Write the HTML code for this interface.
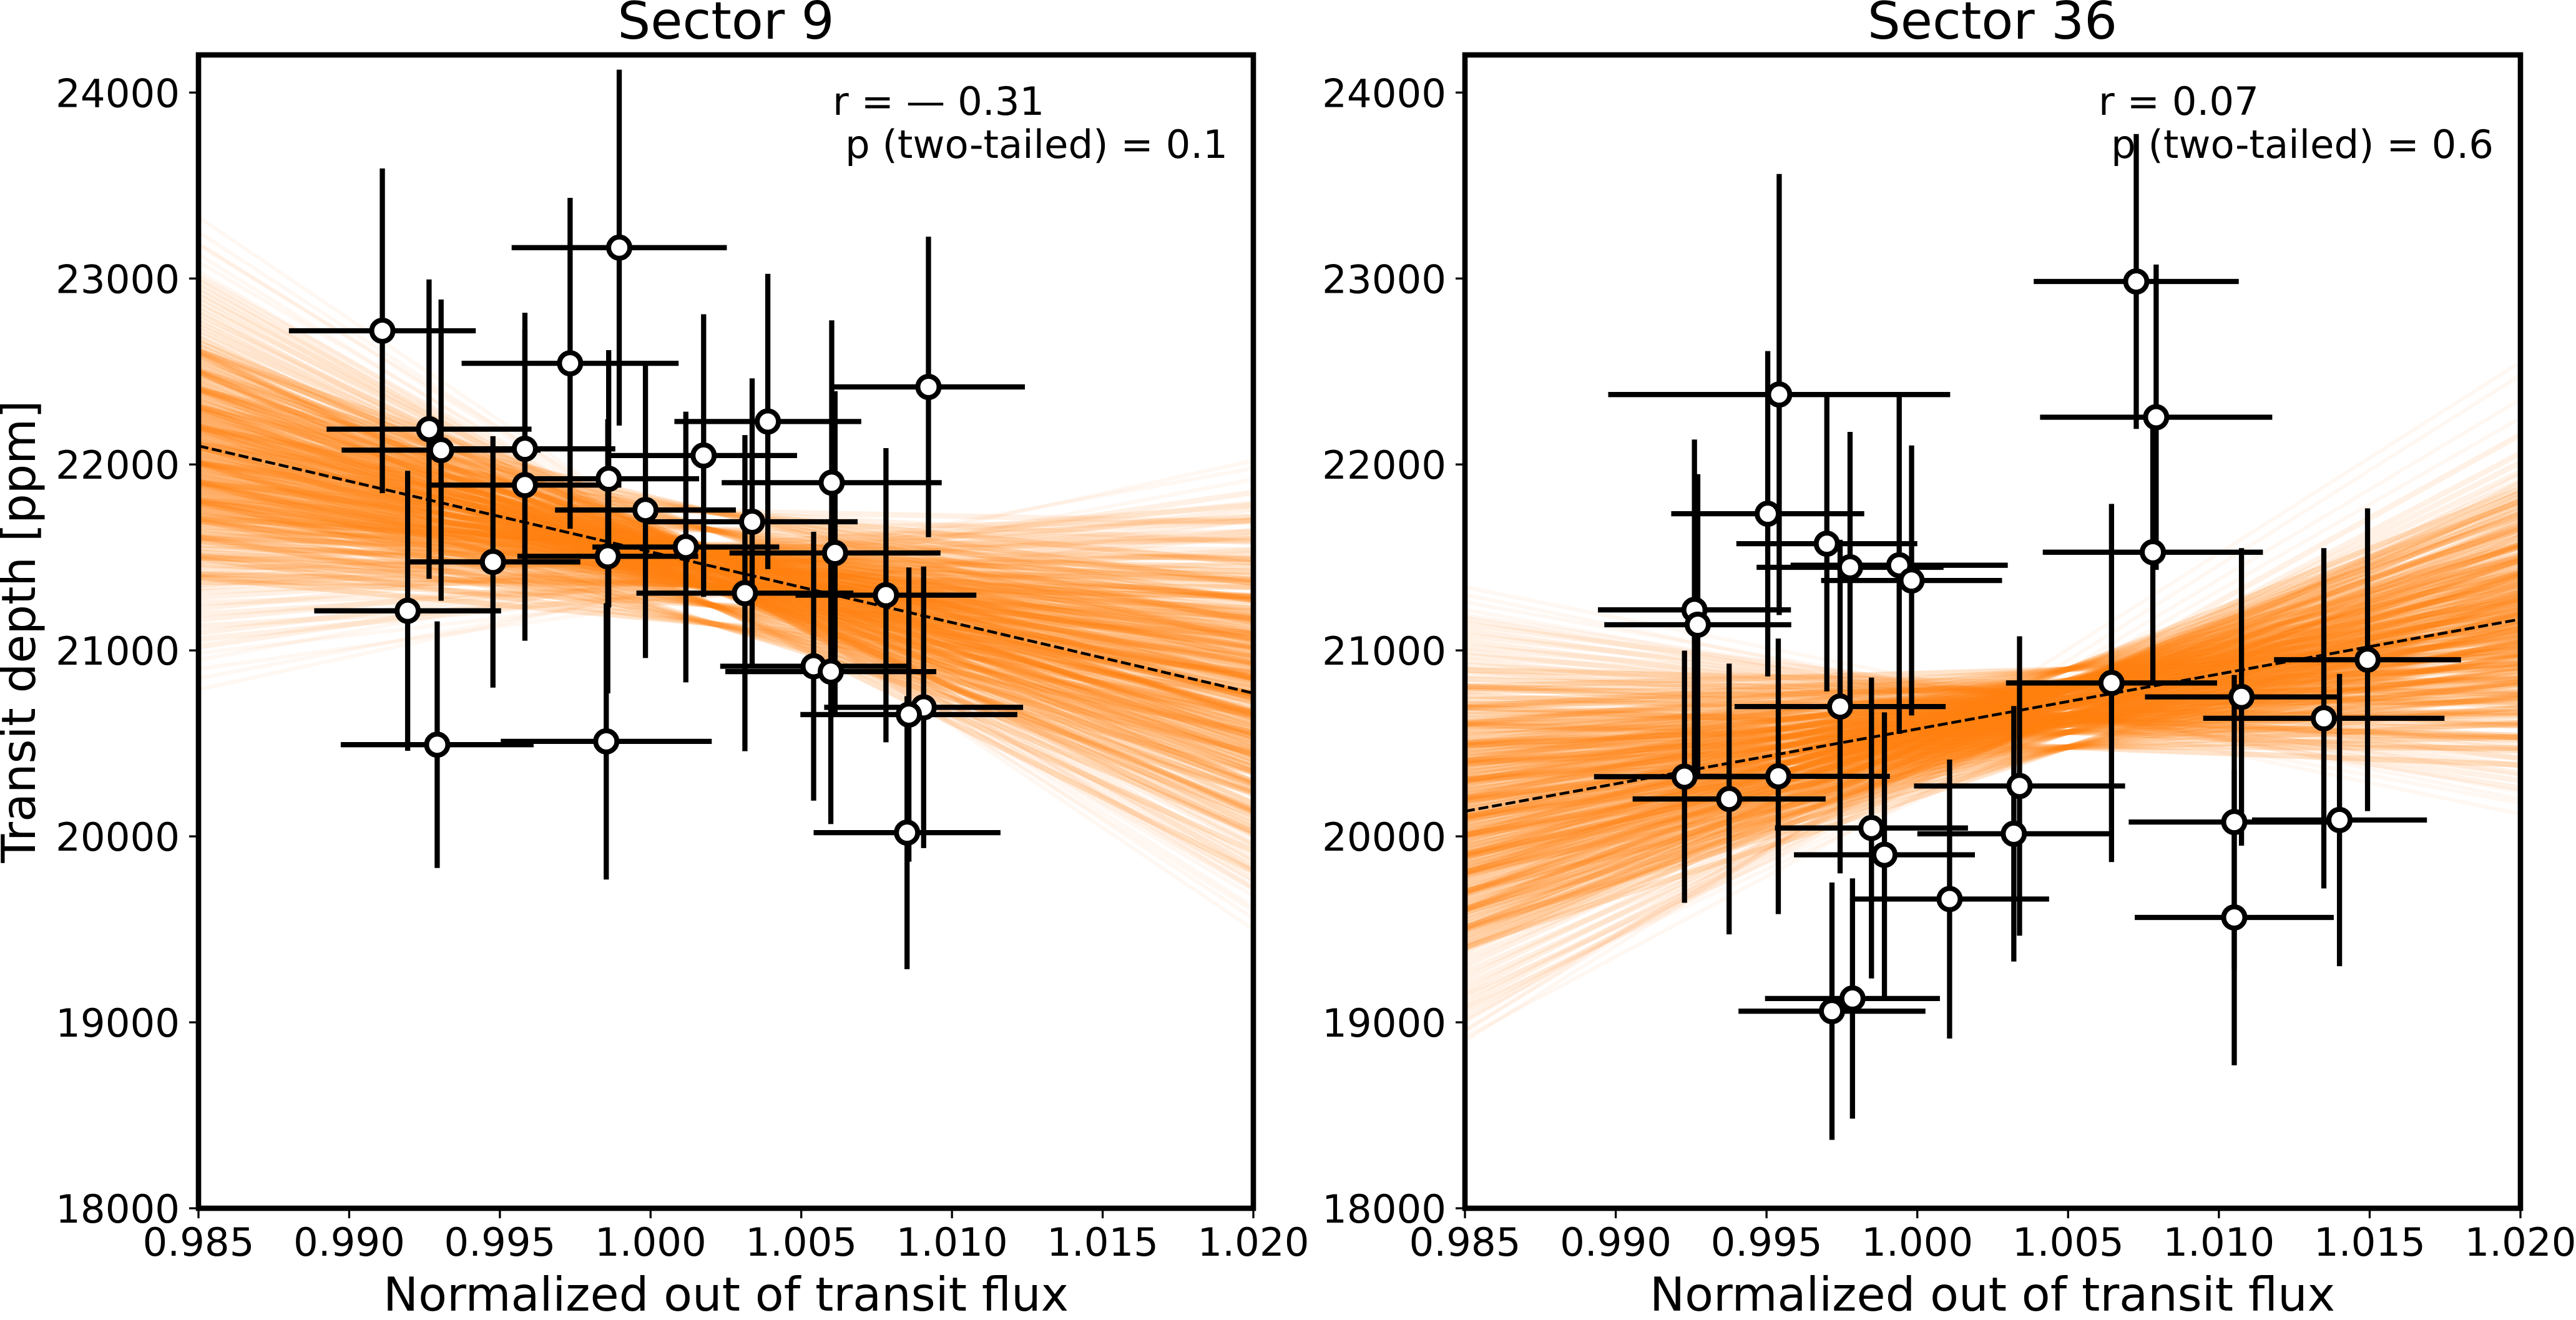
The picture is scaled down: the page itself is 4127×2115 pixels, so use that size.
<!DOCTYPE html>
<html lang="en">
<head>
<meta charset="utf-8">
<title>Transit depth vs normalized out of transit flux</title>
<style>
html,body{margin:0;padding:0;background:#fff;width:4127px;height:2115px;overflow:hidden}
svg{display:block}
text{font-family:"DejaVu Sans","Liberation Sans",sans-serif;fill:#000}
</style>
</head>
<body>
<svg id="chart" xmlns="http://www.w3.org/2000/svg" width="4127" height="2115" viewBox="0 0 4127 2115">
<defs>
<clipPath id="clip-s9"><rect x="318" y="88" width="1690" height="1848"/></clipPath>
<clipPath id="clip-s36"><rect x="2347" y="88" width="1691" height="1848"/></clipPath>
</defs>
<rect x="0" y="0" width="4127" height="2115" fill="#fff"/>
<g id="panel-s9"></g>
<g id="panel-s36"></g>
<text x="1163" y="62" font-size="83.3" text-anchor="middle">Sector 9</text>
<text x="3192" y="62" font-size="83.3" text-anchor="middle">Sector 36</text>
<text x="1163" y="2100" font-size="75" text-anchor="middle">Normalized out of transit flux</text>
<text x="3192" y="2100" font-size="75" text-anchor="middle">Normalized out of transit flux</text>
<text transform="translate(56 1012) rotate(-90)" font-size="75" text-anchor="middle">Transit depth [ppm]</text>
<text x="1334" y="184" font-size="62.5">r = — 0.31</text>
<text x="1354" y="253" font-size="62.5">p (two-tailed) = 0.1</text>
<text x="3362" y="184" font-size="62.5">r = 0.07</text>
<text x="3382" y="253" font-size="62.5">p (two-tailed) = 0.6</text>
</svg>
<script>
const xTicks = [0.985, 0.990, 0.995, 1.000, 1.005, 1.010, 1.015, 1.020];
const yTicks = [18000, 19000, 20000, 21000, 22000, 23000, 24000];

const s9X = [0.99110,0.99896,0.99733,1.00922,1.00389,0.99265,0.99305,0.99583,1.00176,0.99861,0.99583,1.00601,0.99983,1.00337,1.00117,1.00612,0.99858,0.99477,0.99194,1.00313,1.00781,1.00541,1.00598,1.00906,1.00857,0.99292,0.99853,1.00851];
const s9Y = [22719,23166,22544,22417,22231,22190,22077,22084,22048,21923,21889,21902,21755,21692,21556,21524,21506,21476,21213,21308,21297,20915,20886,20694,20655,20493,20511,20020];
const s9XErr = [0.0031,0.00357,0.0036,0.0032,0.0031,0.0034,0.0033,0.0030,0.0031,0.0030,0.0032,0.00365,0.0030,0.0035,0.0031,0.0035,0.0030,0.0029,0.0031,0.0036,0.0030,0.0031,0.0035,0.0033,0.0036,0.0032,0.0035,0.0031];
const s9YErr = [873,957,890,808,794,805,810,732,760,692,837,873,796,771,728,870,737,676,753,850,791,723,820,757,791,663,743,734];

const s36X = [1.00726,0.99542,1.00792,0.99504,0.99700,0.99777,0.99940,0.99981,1.00781,0.99261,0.99272,1.01493,1.00644,1.01075,1.01348,0.99744,0.99228,0.99539,0.99376,1.00339,1.00320,0.99848,0.99891,1.00107,1.01051,1.01400,1.01051,0.99785,0.99717];
const s36Y = [22984,22376,22254,21735,21574,21447,21458,21376,21528,21218,21138,20950,20825,20750,20635,20698,20321,20323,20201,20271,20014,20045,19901,19663,20077,20088,19564,19128,19060];
const s36XErr = [0.0034,0.00567,0.00385,0.0032,0.0030,0.0031,0.0036,0.0030,0.00365,0.0032,0.0031,0.0031,0.0035,0.0032,0.0040,0.0035,0.0030,0.0037,0.0032,0.0035,0.0032,0.0032,0.0030,0.0033,0.0035,0.0029,0.0033,0.0029,0.0031];
const s36YErr = [793,1186,821,875,794,728,907,726,703,916,810,814,963,800,915,897,678,741,728,805,687,809,766,750,791,786,795,646,692];

const s9Fit = [22100, 20770];
const s36Fit = [20135, 21168];

/* Posterior sample lines: [depth at flux 0.985, depth at flux 1.020] */
const s9Core = [
[21368,21340],[21412,21290],[21462,21230],[21497,21380],[21530,21160],[21548,21450],
[21566,21295],[21598,21130],[21612,21400],[21627,21260],[21640,21490],[21655,21090],[21668,21340],[21682,21210],[21694,21420],[21708,21050],[21720,21290],
[21728,21367],[21736,21018],[21745,21168],[21752,20880],[21760,21272],[21769,21093],[21777,21224],[21784,20897],[21793,21177],[21800,21020],[21808,21282],[21816,20933],
[21825,21084],[21832,20796],[21840,21188],[21849,21008],[21856,21141],[21864,20812],[21873,21093],[21880,20935],[21888,21197],[21896,20848],[21905,20999],[21912,20711],
[21920,21103],[21929,20923],[21936,21056],[21944,20727],[21953,21008],[21960,20850],[21968,21112],[21976,20763],[21985,20914],[21992,20626],[22000,21018],[22009,20838],
[22016,20971],[22024,20642],[22033,20923],[22040,20765],[22048,21027],[22056,20678],[22065,20829],[22072,20541],[22080,20933],[22089,20753],[22096,20886],[22104,20557],
[22113,20838],[22120,20681],[22128,20943],[22136,20594],[22145,20744],[22152,20457],[22160,20849],[22169,20669],[22176,20802],[22184,20473],[22193,20754],[22200,20597],
[22208,20858],[22216,20510],[22225,20660],[22232,20373],[22240,20764],[22249,20585],[22256,20718],[22264,20389],[22273,20669],[22280,20512],[22290,20772],[22301,20420],
[22312,20568],[22322,20277],[22334,20665],[22345,20483],[22356,20611],[22368,20279],[22380,20556],[22392,20393],[22405,20650],[22418,20296],[22431,20442],[22444,20148],
[22458,20533],[22472,20348],[22486,20474],[22500,20139],[22516,20412],[22532,20245],[22548,20498],[22564,20141],[22580,20284],[22598,20085],[22616,20366],[22636,20175],
[22656,20294],[22680,20048]
];
const s9Spread = [
[21900,21380],[22005,21270],[22105,21165],[22205,21060],[22305,20955],[22405,20850],[22505,20740],[22610,20630],
[21710,21370],[21795,21280],[21905,21170],[22010,21060],[22090,20970],[22200,20850],[22310,20740],[22395,20640],[22500,20530],[22605,20430],
[21405,21290],[21500,21180],[21610,21070],[21695,20980],[21805,20860],[21890,20770],[22010,20650],[22095,20550],[22205,20440],[22290,20350],[22410,20225],[22495,20130],[22590,20025],
[21395,21085],[21510,20970],[21590,20875],[21710,20750],[21790,20665],[21910,20540],[22005,20445],[22095,20345],[22190,20240],[22310,20115],[22405,20020],[22500,19920],[22610,19810],
[22005,21470],[22110,21360],[22195,21270],[22310,21150],[22405,21050],
[21390,20885],[21495,20770],[21610,20655],[21700,20560],[21805,20450],[21905,20340],[22010,20235]
];
const s9Mid = [
[21020,21850],[21060,21620],[21095,21760],[21130,21480],[21165,21700],[21195,21540],[21225,21790],[21255,21430],[21285,21640],[21315,21520],[21335,21720],
[21352,21780],[21395,21610],[21428,21720],[21447,21505],[21480,21640],[21515,21590],[21581,21540],[21605,21700],[21700,21590],[21805,21490],[21410,21700],[21505,21600],[21600,21490],[21805,21690],[21895,21580],
[22705,20260],[22725,20010],[22745,20180],[22765,19950],[22785,20120],[22810,20000],[22830,19860],[22855,20060],[22880,19820],[22905,19960],[22930,19770],[22955,19880],[22985,19720],[23010,19830]
];
const s9Tail = [
[20790,22020],[20850,21920],[20900,21700],[20950,21980],[20985,21650],[23040,19680],[23090,19750],[23130,19600],[23190,19620],[23250,19560],[23330,19500],[23180,19720]
];

const s36Core = [
[19405,21814],[19422,21651],[19440,21848],[19458,21554],[19476,21701],[19495,21487],[19512,21784],[19530,21610],[19548,21737],[19566,21404],[19584,21680],[19602,21517],
[19620,21753],[19636,21421],[19652,21569],[19668,21297],[19684,21665],[19700,21483],[19715,21612],[19730,21281],[19745,21559],[19760,21398],[19775,21637],[19790,21306],
[19800,21458],[19810,21191],[19820,21563],[19830,21386],[19840,21518],[19850,21191],[19860,21473],[19870,21316],[19880,21558],[19890,21231],[19900,21383],[19910,21116],
[19920,21488],[19930,21311],[19940,21443],[19950,21116],[19960,21398],[19970,21241],[19980,21483],[19990,21156],[20000,21308],[20010,21041],[20020,21413],[20030,21236],
[20040,21368],[20050,21041],[20060,21323],[20070,21166],[20080,21408],[20090,21081],[20100,21233],[20110,20966],[20120,21338],[20130,21161],[20140,21293],[20150,20966],
[20160,21248],[20170,21091],[20180,21333],[20190,21006],[20200,21158],[20210,20891],[20220,21263],[20230,21086],[20240,21218],[20250,20891],[20260,21173],[20270,21016],
[20280,21258],[20290,20931],[20300,21083],[20310,20816],[20320,21188],[20330,21011],[20340,21143],[20350,20816],[20360,21098],[20370,20941],[20380,21183],[20390,20856],
[20400,21008],[20410,20741],[20420,21113],[20430,20936],[20440,21068],[20450,20741],[20460,21023],[20470,20866],[20480,21108],[20490,20781],[20500,20933],[20514,20663],
[20528,21032],[20542,20852],[20556,20981],[20570,20651],[20586,20929],[20602,20767],[20618,21005],[20636,20671],[20654,20818],[20672,20544],[20692,20909],[20712,20724],
[20734,20848],[20758,20530],[20782,20782],[20810,20611],[20845,20705]
];
const s36Spread = [
[19605,21870],[19700,21800],[19805,21720],[19895,21650],[20005,21570],[20100,21500],[20205,21420],[20295,21350],[20405,21270],[20500,21200],[20605,21120],[20695,21050],[20805,20970],
[19505,21805],[19610,21730],[19695,21665],[19805,21580],[19905,21505],[20010,21430],[20095,21365],[20210,21280],[20295,21215],[20405,21135],[20495,21065],[20610,20980],[20705,20905],[20795,20840],[20895,20765],
[19395,21575],[19510,21490],[19605,21415],[19690,21355],[19810,21265],[19895,21200],[20005,21115],[20110,21040],[20195,20975],[20310,20885],[20395,20825],[20490,20755],[20605,20665],[20690,20600],[20805,20515],
[19495,21360],[19610,21275],[19705,21200],[19790,21140],[19905,21050],[20010,20975],[20095,20910],[20205,20830],[20305,20750],[20390,20690],[20505,20600],[20595,20535],[20695,20460],
[19405,21285],[19510,21210],[19595,21145],[19705,21060],[19805,20985],[19895,20920],[20005,20835],[20110,20760],[20195,20695],[20305,20610],[20405,20535],[20490,20475],[20605,20385]
];
const s36Mid = [
[19020,22160],[19060,21900],[19095,22060],[19130,21830],[19165,22010],[19200,21780],[19235,21960],[19270,21700],[19305,21910],[19340,21760],[19375,21850],
[20870,20720],[20895,20470],[20920,20640],[20945,20420],[20970,20590],[20995,20380],[21020,20530],[21050,20340],[21080,20480],[21110,20300],[21140,20420],[21170,20260]
];
const s36Tail = [
[18900,22480],[18950,22550],[19000,22250],[18920,21950],[18960,22350],[21190,20330],[21220,20180],[21260,20240],[21300,20120],[21340,20200],[19080,21680],[19150,21620]
];

const SVG_NS = 'http://www.w3.org/2000/svg';
const yAxisTop = 148.3, yAxisBottom = 1936;

function yScale(v) {
  return yAxisBottom - (v - yTicks[0]) * (yAxisBottom - yAxisTop) / (yTicks[yTicks.length - 1] - yTicks[0]);
}
function makeXScale(left, right) {
  return function (v) {
    return left + (v - xTicks[0]) * (right - left) / (xTicks[xTicks.length - 1] - xTicks[0]);
  };
}
function mk(tag, attrs, parent) {
  const el = document.createElementNS(SVG_NS, tag);
  for (const k in attrs) el.setAttribute(k, attrs[k]);
  parent.appendChild(el);
  return el;
}

function drawSamples(group, samples, xScale, opacity, width, name) {
  const xa = xScale(xTicks[0]);
  const xb = xScale(xTicks[xTicks.length - 1]);
  samples.forEach(function (s) {
    const ln = mk('line', {x1: xa, y1: yScale(s[0]), x2: xb, y2: yScale(s[1]), stroke: '#ff7f0e', 'stroke-width': width, 'stroke-opacity': opacity}, group);
    
    
  });
}

function drawPanel(groupId, clipId, left, right, core, spread, mid, tail, fit, xs, ys, xerrs, yerrs) {
  const root = document.getElementById(groupId);
  const xScale = makeXScale(left, right);

  const samples = mk('g', {'clip-path': 'url(#' + clipId + ')'}, root);
  
  
  drawSamples(samples, tail, xScale, 0.06, 6, 'posterior-line-tail');
  drawSamples(samples, mid, xScale, 0.11, 9, 'posterior-line-mid');
  drawSamples(samples, spread, xScale, 0.22, 9, 'posterior-line-spread');
  drawSamples(samples, core, xScale, 0.22, 9, 'posterior-line-core');

  const fitLine = mk('line', {x1: xScale(xTicks[0]), y1: yScale(fit[0]), x2: xScale(xTicks[xTicks.length - 1]), y2: yScale(fit[1]), stroke: '#000', 'stroke-width': 4.5, 'stroke-dasharray': '16 6', 'clip-path': 'url(#' + clipId + ')'}, root);
  
  

  const bars = mk('g', {stroke: '#000', 'stroke-width': 8.3, 'clip-path': 'url(#' + clipId + ')'}, root);
  
  
  xs.forEach(function (x, i) {
    const v = mk('line', {x1: xScale(x), x2: xScale(x), y1: yScale(ys[i] + yerrs[i]), y2: yScale(ys[i] - yerrs[i])}, bars);
    
    
    const h = mk('line', {x1: xScale(x - xerrs[i]), x2: xScale(x + xerrs[i]), y1: yScale(ys[i]), y2: yScale(ys[i])}, bars);
    
    
  });

  const pts = mk('g', {fill: '#fff', stroke: '#000', 'stroke-width': 8, 'clip-path': 'url(#' + clipId + ')'}, root);
  
  
  xs.forEach(function (x, i) {
    const c = mk('circle', {cx: xScale(x), cy: yScale(ys[i]), r: 17}, pts);
    
    
  });

  xTicks.forEach(function (t) {
    const m = mk('line', {x1: xScale(t), x2: xScale(t), y1: yAxisBottom, y2: yAxisBottom + 16, stroke: '#000', 'stroke-width': 3.3}, root);
    
    
    const l = mk('text', {x: xScale(t), y: 2012, 'font-size': 62.5, 'text-anchor': 'middle'}, root);
    
    
    l.textContent = t.toFixed(3);
  });
  yTicks.forEach(function (t) {
    const m = mk('line', {x1: left - 15, x2: left, y1: yScale(t), y2: yScale(t), stroke: '#000', 'stroke-width': 3.3}, root);
    
    
    const l = mk('text', {x: left - 30, y: yScale(t) + 23, 'font-size': 62.5, 'text-anchor': 'end'}, root);
    
    
    l.textContent = String(t);
  });

  const frame = mk('rect', {x: left, y: 88, width: right - left, height: yAxisBottom - 88, fill: 'none', stroke: '#000', 'stroke-width': 8.6}, root);
  
  
}

drawPanel('panel-s9', 'clip-s9', 318, 2008, s9Core, s9Spread, s9Mid, s9Tail, s9Fit, s9X, s9Y, s9XErr, s9YErr);
drawPanel('panel-s36', 'clip-s36', 2347, 4038, s36Core, s36Spread, s36Mid, s36Tail, s36Fit, s36X, s36Y, s36XErr, s36YErr);
</script>
</body>
</html>
